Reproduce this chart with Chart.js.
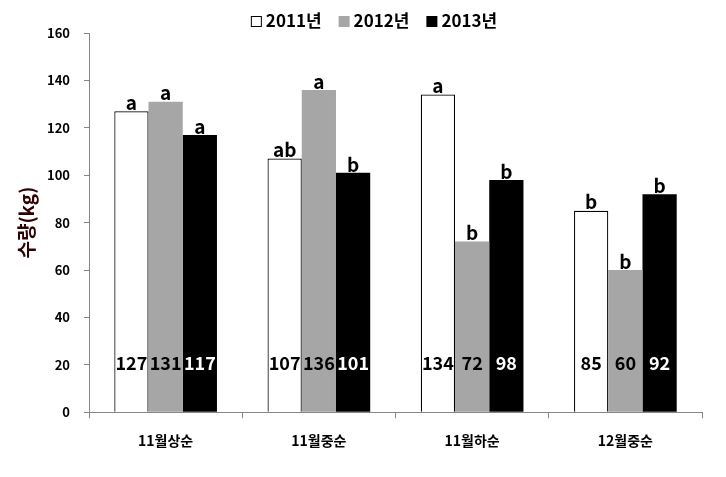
<!DOCTYPE html>
<html>
<head>
<meta charset="utf-8">
<script src="https://cdn.jsdelivr.net/npm/chart.js@4"></script>
<style>
  html, body { margin: 0; padding: 0; background: #fff; }
  #wrap { width: 726px; height: 477px; }
</style>
</head>
<body>
<div id="wrap"><canvas id="harvestChart" width="726" height="477"></canvas></div>
<script>
const categories = ["11월상순", "11월중순", "11월하순", "12월중순"];
const seriesNames = ["2011년", "2012년", "2013년"];
const vals2011 = [127, 107, 134, 85];
const vals2012 = [131, 136, 72, 60];
const vals2013 = [117, 101, 98, 92];
const letters2011 = ["a", "ab", "a", "b"];
const letters2012 = ["a", "a", "b", "b"];
const letters2013 = ["a", "b", "b", "b"];
const yTicks = [0, 20, 40, 60, 80, 100, 120, 140, 160];

const FONT = "'Noto Sans CJK KR', 'Noto Sans', sans-serif";

// draws the value inside each bar near the bottom and the letter above it
const barLabels = {
  id: "barLabels",
  afterDatasetsDraw(chart) {
    const ctx = chart.ctx;
    const yScale = chart.scales.y;
    const letterSets = [letters2011, letters2012, letters2013];
    const textCols = ["#000", "#000", "#fff"];
    chart.data.datasets.forEach((ds, i) => {
      const meta = chart.getDatasetMeta(i);
      meta.data.forEach((bar, j) => {
        ctx.save();
        ctx.textAlign = "center";
        ctx.textBaseline = "middle";
        // value number
        ctx.font = "bold 18px " + FONT;
        ctx.fillStyle = textCols[i];
        ctx.fillText(String(ds.data[j]), bar.x, yScale.getPixelForValue(20.5));
        // significance letter
        ctx.font = "bold 19px " + FONT;
        ctx.fillStyle = "#000";
        ctx.textBaseline = "bottom";
        ctx.fillText(letterSets[i][j], bar.x, bar.y + 1);
        ctx.restore();
      });
    });
  }
};

// legend row on top, drawn by hand so it sits tight above the plot
const topLegend = {
  id: "topLegend",
  afterDraw(chart) {
    const ctx = chart.ctx;
    const box = 11, gapText = 4, gapItem = 17, midY = 21;
    ctx.save();
    ctx.font = "bold 17px " + FONT;
    ctx.textBaseline = "middle";
    ctx.textAlign = "left";
    const items = chart.data.datasets.map(ds => ({ ds, w: ctx.measureText(ds.label).width }));
    let total = 0;
    items.forEach((it, k) => { total += box + gapText + it.w + (k ? gapItem : 0); });
    let x = 374 - total / 2;
    items.forEach(it => {
      ctx.fillStyle = it.ds.backgroundColor;
      ctx.fillRect(x, midY - 5, box, box);
      if (it.ds.borderWidth) {
        ctx.strokeStyle = "#000";
        ctx.lineWidth = 1;
        ctx.strokeRect(x + 0.5, midY - 4.5, box - 1, box - 1);
      }
      ctx.fillStyle = "#000";
      ctx.fillText(it.ds.label, x + box + gapText, midY);
      x += box + gapText + it.w + gapItem;
    });
    ctx.restore();
  }
};

new Chart("harvestChart", {
  type: "bar",
  data: {
    labels: categories,
    datasets: [
      { label: seriesNames[0], data: vals2011, backgroundColor: "#ffffff", borderColor: "#000000", borderWidth: 1.2 },
      { label: seriesNames[1], data: vals2012, backgroundColor: "#a6a6a6", borderWidth: 0 },
      { label: seriesNames[2], data: vals2013, backgroundColor: "#000000", borderWidth: 0 }
    ]
  },
  options: {
    responsive: false,
    animation: false,
    devicePixelRatio: 1,
    layout: { padding: { left: 15, right: 24, top: 33, bottom: 14 } },
    datasets: { bar: { categoryPercentage: 0.67, barPercentage: 1.0 } },
    plugins: {
      legend: { display: false },
      tooltip: { enabled: false }
    },
    scales: {
      x: {
        grid: { display: true, drawOnChartArea: false, offset: true, tickLength: 6, color: "#868686" },
        border: { color: "#868686", width: 1 },
        ticks: { color: "#000", padding: 14, font: { family: FONT, size: 14, weight: "bold" } }
      },
      y: {
        min: 0,
        max: 160,
        afterBuildTicks(axis) { axis.ticks = yTicks.map(v => ({ value: v })); },
        afterFit(axis) { axis.width = 74; },
        grid: { display: true, drawOnChartArea: false, tickLength: 5, color: "#868686" },
        border: { color: "#868686", width: 1 },
        ticks: { color: "#000", padding: 14, font: { family: FONT, size: 13, weight: "bold" } },
        title: {
          display: true,
          text: "수량(kg)",
          color: "#300000",
          padding: { top: 0, bottom: 12 },
          font: { family: FONT, size: 19, weight: "bold" }
        }
      }
    }
  },
  plugins: [barLabels, topLegend]
});
</script>
</body>
</html>
